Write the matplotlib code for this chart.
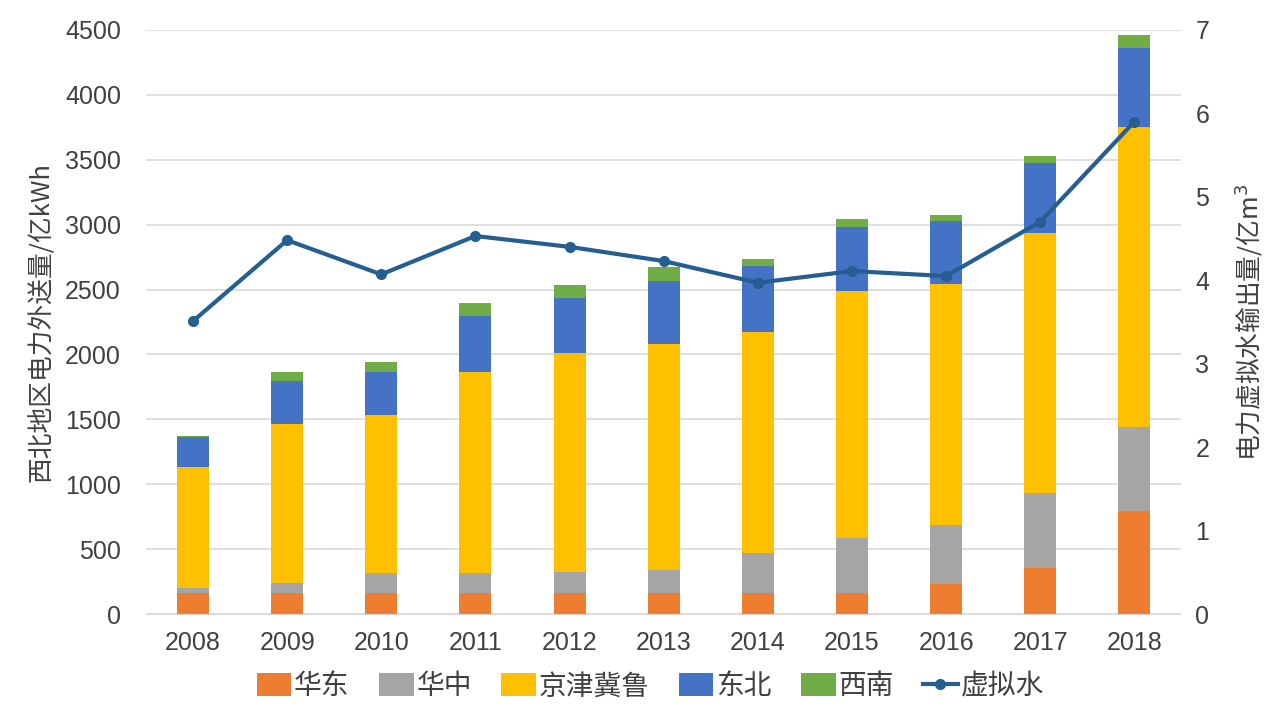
import numpy as np
import matplotlib.pyplot as plt

plt.rcParams['font.family'] = ['Noto Sans CJK SC', 'DejaVu Sans']

# 数据
years = ['2008', '2009', '2010', '2011', '2012', '2013', '2014', '2015', '2016', '2017', '2018']
huadong = [160, 160, 160, 160, 160, 160, 160, 160, 228, 352, 796]
huazhong = [40, 81, 153, 153, 166, 179, 314, 428, 455, 583, 642]
jingjinjilu = [930, 1223, 1220, 1554, 1682, 1739, 1699, 1900, 1859, 1998, 2316]
dongbei = [231, 331, 334, 431, 429, 487, 508, 496, 486, 540, 607]
xinan = [11, 72, 72, 98, 98, 107, 56, 62, 46, 57, 103]
virtual_water = [3.51, 4.48, 4.07, 4.53, 4.40, 4.23, 3.97, 4.11, 4.05, 4.70, 5.90]

series = [('华东', huadong, '#ED7D31'),
          ('华中', huazhong, '#A5A5A5'),
          ('京津冀鲁', jingjinjilu, '#FFC000'),
          ('东北', dongbei, '#4472C4'),
          ('西南', xinan, '#70AD47')]

txt = '#404040'
fs = 18

fig = plt.figure(figsize=(12.8, 7.12), dpi=100)
ax = fig.add_axes([0.114, 0.1376, 0.809, 0.8204])
ax2 = ax.twinx()

x = np.arange(len(years))
bottom = np.zeros(len(years))
handles = []
for name, vals, color in series:
    b = ax.bar(x, vals, 0.34, bottom=bottom, color=color, label=name, zorder=2)
    handles.append(b)
    bottom += np.array(vals)

line, = ax2.plot(x, virtual_water, color='#255E91', lw=3, marker='o', ms=7, label='虚拟水', zorder=3)
handles.append(line)

ax.set_xlim(-0.5, len(years) - 0.5)
ax.set_ylim(0, 4500)
ax.set_yticks(np.arange(0, 4501, 500))
ax2.set_ylim(0, 7)
ax2.set_yticks(np.arange(0, 8, 1))
ax.set_xticks(x)
ax.set_xticklabels(years)

ax.grid(axis='y', color='#D9D9D9', lw=1.2, zorder=0)
ax.set_axisbelow(True)
for a in (ax, ax2):
    for s in a.spines.values():
        s.set_visible(False)
    a.tick_params(length=0, labelsize=fs, labelcolor=txt)
    for lab in a.get_xticklabels() + a.get_yticklabels():
        lab.set_family('Liberation Sans')
ax.spines['bottom'].set_visible(True)
ax.spines['bottom'].set_color('#D9D9D9')
ax.tick_params(axis='y', pad=18)
ax.tick_params(axis='x', pad=12)
ax2.tick_params(axis='y', pad=10)

ax.set_ylabel('西北地区电力外送量/亿kWh', fontsize=18.5, color=txt, labelpad=7)
ax2.set_ylabel('电力虚拟水输出量/亿m$^3$', fontsize=18.5, color=txt, labelpad=17)

fig.legend(handles=handles, labels=[h.get_label() for h in handles],
           loc='lower center', bbox_to_anchor=(0.508, -0.02), ncol=6, frameon=False,
           fontsize=20, labelcolor=txt, handlelength=1.25, handleheight=0.9,
           handletextpad=0.1, columnspacing=1.05)

fig.savefig('out.png', dpi=100)
